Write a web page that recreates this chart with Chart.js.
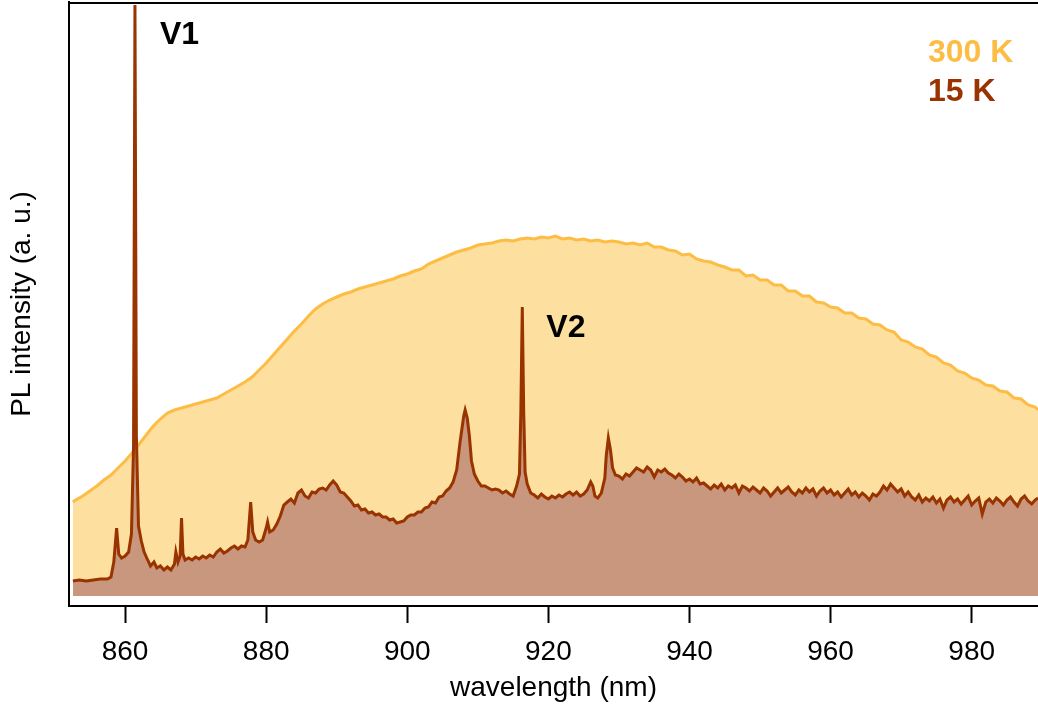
<!DOCTYPE html>
<html>
<head>
<meta charset="utf-8">
<script src="https://cdn.jsdelivr.net/npm/chart.js@4.4.0/dist/chart.umd.min.js"></script>
<style>
  html, body { margin: 0; padding: 0; background: #fff; }
  #wrap { width: 1038px; height: 706px; }
</style>
</head>
<body>
<div id="wrap"><canvas id="plSpectra" width="1038" height="706"></canvas></div>
<script>
// 15 K spectrum (wavelength in nm, PL in a. u.)
var wl15 = [
  852.6, 853.5, 854.5, 855.5, 856.5, 857.5, 858.0, 858.4, 858.8, 859.1,
  859.5, 860.0, 860.5, 860.9, 861.2, 861.4, 861.6, 861.9, 862.3, 862.7,
  863.2, 863.6, 864.1, 864.5, 865.0, 865.5, 866.0, 866.5, 867.0, 867.2,
  867.5, 867.8, 868.0, 868.2, 868.5,
  869.0, 869.5, 870.0, 870.5, 871.0, 871.5, 872.0, 872.5, 873.0, 873.5,
  874.0, 874.5, 875.0, 875.5, 876.0, 876.5, 877.0,
  877.4, 877.8, 878.1, 878.5, 879.0, 879.5, 880.0, 880.2, 880.5,
  881.0, 881.5, 882.0, 882.5, 883.0, 883.5, 884.0, 884.5, 885.0, 885.5,
  886.0, 886.5, 887.0, 887.5, 888.0, 888.5, 889.0, 889.5, 890.0, 890.5,
  891.0, 891.5, 892.0, 892.5, 893.0, 893.5, 894.0, 894.5, 895.0, 895.5,
  896.0, 896.5, 897.0, 897.5, 898.0, 898.5, 899.0, 899.5, 900.0, 900.5,
  901.0, 901.5, 902.0, 902.5, 903.0, 903.5, 904.0, 904.5, 905.0, 905.5,
  906.0, 906.5, 907.0,
  907.5, 907.8, 908.0, 908.2, 908.5, 908.8, 909.1, 909.5, 910.0, 910.5,
  911.0, 911.5, 912.0, 912.5, 913.0, 913.5, 914.0, 914.5, 915.0, 915.5,
  915.9, 916.1, 916.3, 916.5, 916.7, 917.0,
  917.5, 918.0, 918.5, 919.0, 919.5, 920.0, 920.5, 921.0, 921.5, 922.0,
  922.5, 923.0, 923.5, 924.0, 924.5, 925.0, 925.5,
  926.0, 926.3, 926.6, 927.0, 927.5, 928.0, 928.2, 928.5, 928.8, 929.1, 929.5,
  930.0, 930.5, 931.0, 931.5, 932.0, 932.5, 933.0, 933.5, 934.0, 934.5,
  935.0, 935.5, 936.0, 936.5, 937.0, 937.5, 938.0, 938.5, 939.0, 939.5,
  940.0, 940.5, 941.0, 941.5, 942.0, 942.5, 943.0, 943.5, 944.0, 944.5,
  945.0, 945.5, 946.0, 946.5, 947.0, 947.5, 948.0, 948.5, 949.0, 949.5,
  950.0, 950.5, 951.0, 951.5, 952.0, 952.5, 953.0, 953.5, 954.0, 954.5,
  955.0, 955.5, 956.0, 956.5, 957.0, 957.5, 958.0, 958.5, 959.0, 959.5,
  960.0, 960.5, 961.0, 961.5, 962.0, 962.5, 963.0, 963.5, 964.0, 964.5,
  965.0, 965.5, 966.0, 966.5, 967.0, 967.5, 968.0, 968.5, 969.0, 969.5,
  970.0, 970.5, 971.0, 971.5, 972.0, 972.5, 973.0, 973.5, 974.0, 974.5,
  975.0, 975.5, 976.0, 976.5, 977.0, 977.5, 978.0, 978.5, 979.0, 979.5,
  980.0, 980.5, 981.0, 981.5, 982.0, 982.5, 983.0, 983.5, 984.0, 984.5,
  985.0, 985.5, 986.0, 986.5, 987.0, 987.5, 988.0, 988.5, 989.0, 989.4
];
var pl15 = [
  15, 16, 15, 16, 17, 17, 19, 34, 68, 42,
  38, 40, 44, 62, 150, 591, 160, 70, 55, 44,
  36, 30, 34, 28, 30, 26, 29, 26, 32, 44,
  34, 40, 78, 42, 36,
  38, 36, 39, 37, 40, 38, 41, 39, 44, 47,
  43, 45, 48, 50, 47, 50, 49,
  56, 94, 64, 56, 54, 56, 68, 74, 64,
  66, 72, 80, 91, 94, 97, 93, 103, 106, 100,
  98, 104, 103, 107, 108, 106, 111, 115, 111, 104,
  103, 99, 95, 90, 91, 86, 87, 83, 84, 81,
  82, 79, 79, 76, 77, 73, 74, 75, 79, 81,
  81, 84, 84, 88, 89, 94, 93, 99, 100, 105,
  108, 114, 126,
  155, 170, 180, 186, 178, 160, 135, 122, 115, 110,
  110, 108, 106, 107, 106, 103, 105, 102, 100, 110,
  122, 185, 289, 185, 124, 112,
  103, 101, 98, 102, 99, 97, 100, 98, 101, 99,
  102, 104, 101, 104, 100, 102, 106,
  114, 110, 100, 98, 103, 118, 140, 158, 146, 128, 121,
  120, 117, 122, 120, 124, 128, 126, 124, 129, 126,
  119, 126, 124, 127, 123, 121, 118, 122, 119, 115,
  117, 114, 118, 112, 113, 110, 107, 111, 108, 112,
  106, 110, 108, 111, 103, 110, 108, 105, 109, 106,
  103, 108, 105, 100, 104, 108, 103, 106, 109, 104,
  101, 106, 103, 108, 104, 107, 100, 105, 108, 103,
  106, 101, 104, 99, 103, 107, 101, 104, 99, 103,
  100, 96, 102, 100, 104, 110, 106, 112, 108, 104,
  107, 100, 104, 99, 96, 101, 94, 98, 95, 99,
  93, 97, 88, 96, 99, 94, 97, 92, 96, 100,
  91, 95, 98, 82, 94, 97, 93, 98, 95, 91,
  96, 99, 94, 90, 97, 100, 95, 92, 96, 98
];

// 300 K spectrum
var wl300 = [
  852.6,
  853, 854, 855, 856, 857, 858, 859, 860, 861, 862,
  863, 864, 865, 866, 867, 868, 869, 870, 871, 872,
  873, 874, 875, 876, 877, 878, 879, 880, 881, 882,
  883, 884, 885, 886, 887, 888, 889, 890, 891, 892,
  893, 894, 895, 896, 897, 898, 899, 900, 901, 902,
  903, 904, 905, 906, 907, 908, 909, 910, 911, 912,
  913, 914, 915, 916, 917, 918, 919, 920, 921, 922,
  923, 924, 925, 926, 927, 928, 929, 930, 931, 932,
  933, 934, 935, 936, 937, 938, 939, 940, 941, 942,
  943, 944, 945, 946, 947, 948, 949, 950, 951, 952,
  953, 954, 955, 956, 957, 958, 959, 960, 961, 962,
  963, 964, 965, 966, 967, 968, 969, 970, 971, 972,
  973, 974, 975, 976, 977, 978, 979, 980, 981, 982,
  983, 984, 985, 986, 987, 988, 989, 989.4
];
var pl300 = [
  94,
  96, 100, 105, 110, 116, 121, 128, 135, 143, 152,
  161, 170, 177, 183, 186, 188, 190, 192, 194, 196,
  198, 202, 206, 210, 214, 219, 226, 233, 241, 249,
  257, 265, 272, 280, 287, 292, 296, 299, 302, 304,
  307, 309, 311, 313, 315, 317, 320, 322, 325, 327,
  332, 335, 338, 341, 344, 346, 348, 351, 352, 353,
  355, 356, 355, 357, 358, 357, 359, 358, 360, 357,
  358, 356, 357, 355, 356, 354, 355, 354, 352, 353,
  351, 353, 349, 349, 346, 345, 341, 342, 337, 335,
  334, 331, 329, 326, 326, 320, 321, 316, 316, 311,
  311, 305, 305, 300, 300, 294, 293, 289, 288, 283,
  283, 278, 277, 272, 271, 266, 264, 256, 254, 249,
  247, 241, 239, 233, 231, 225, 223, 218, 216, 211,
  210, 205, 204, 198, 197, 191, 189, 186
];

var xTicks = [860, 880, 900, 920, 940, 960, 980];
var peakV1 = 861.4, peakV2 = 916.3, heightV2 = 289;

var color300 = '#FDBD45', fill300 = '#FDDF9F';
var color15 = '#993300', fill15 = '#C9967E';
var fontFamily = '"Liberation Sans", Arial, Helvetica, sans-serif';

function toPoints(xs, ys) {
    var pts = [];
    for (var i = 0; i < xs.length; i++) pts.push({ x: xs[i], y: ys[i] });
    return pts;
}

var frameAndLabels = {
    id: 'frameAndLabels',
    afterDraw: function (chart) {
        var ctx = chart.ctx, area = chart.chartArea;
        var xs = chart.scales.x, ys = chart.scales.y;
        ctx.save();
        // top frame line
        ctx.strokeStyle = '#000';
        ctx.lineWidth = 2;
        ctx.beginPath();
        ctx.moveTo(area.left - 1, area.top + 1);
        ctx.lineTo(area.right, area.top + 1);
        ctx.stroke();

        ctx.font = 'bold 32px ' + fontFamily;
        ctx.textBaseline = 'alphabetic';
        ctx.textAlign = 'left';
        ctx.fillStyle = '#000';
        ctx.fillText('V1', xs.getPixelForValue(peakV1) + 25, area.top + 42);
        ctx.fillText('V2', xs.getPixelForValue(peakV2) + 24, ys.getPixelForValue(heightV2) + 30);

        ctx.fillStyle = color300;
        ctx.fillText('300 K', area.right - 110, area.top + 60);
        ctx.fillStyle = color15;
        ctx.fillText('15 K', area.right - 110, area.top + 99);
        ctx.restore();
    }
};

var chart = new Chart(document.getElementById('plSpectra').getContext('2d'), {
    type: 'line',
    data: {
        datasets: [{
            label: '15 K',
            data: toPoints(wl15, pl15),
            borderColor: color15,
            backgroundColor: fill15,
            borderWidth: 3,
            fill: 'origin',
            pointRadius: 0,
            tension: 0
        }, {
            label: '300 K',
            data: toPoints(wl300, pl300),
            borderColor: color300,
            backgroundColor: fill300,
            borderWidth: 3,
            fill: 'origin',
            pointRadius: 0,
            tension: 0
        }]
    },
    options: {
        responsive: false,
        animation: false,
        devicePixelRatio: 1,
        layout: { padding: { top: 2, right: 0, bottom: 0, left: 0 } },
        plugins: {
            legend: { display: false },
            tooltip: { enabled: false }
        },
        scales: {
            x: {
                type: 'linear',
                min: 852.05,
                max: 989.4,
                afterFit: function (scale) { scale.height = 100; },
                afterBuildTicks: function (scale) {
                    scale.ticks = xTicks.map(function (v) { return { value: v }; });
                },
                ticks: {
                    color: '#000',
                    padding: 12,
                    maxRotation: 0,
                    font: { family: fontFamily, size: 28 }
                },
                grid: {
                    display: true,
                    drawOnChartArea: false,
                    drawTicks: true,
                    tickLength: 17,
                    tickColor: '#000',
                    tickWidth: 2
                },
                border: { display: true, color: '#000', width: 2 },
                title: {
                    display: true,
                    text: 'wavelength (nm)',
                    color: '#000',
                    font: { family: fontFamily, size: 28 },
                    padding: { top: 0, bottom: 1 }
                }
            },
            y: {
                min: -10,
                max: 594,
                afterFit: function (scale) { scale.width = 69; },
                ticks: { display: false },
                grid: { display: false, drawTicks: false },
                border: { display: true, color: '#000', width: 2 },
                title: {
                    display: true,
                    text: 'PL intensity (a. u.)',
                    color: '#000',
                    font: { family: fontFamily, size: 28 },
                    padding: { top: 5, bottom: 0 }
                }
            }
        }
    },
    plugins: [frameAndLabels]
});
</script>
</body>
</html>
